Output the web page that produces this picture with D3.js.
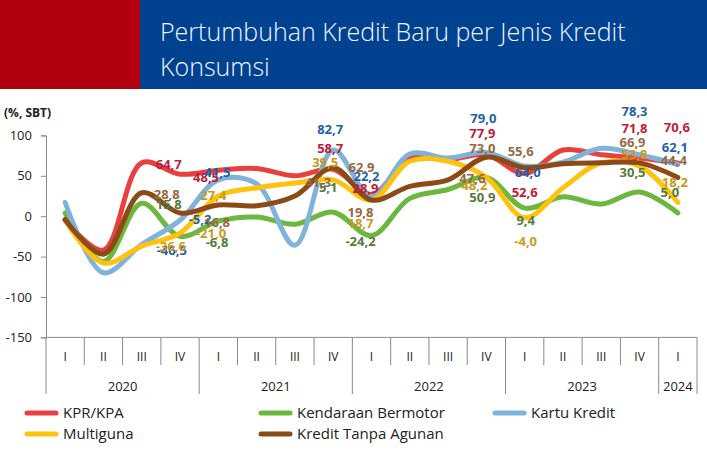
<!DOCTYPE html>
<html lang="id">
<head>
<meta charset="UTF-8">
<title>Pertumbuhan Kredit Baru per Jenis Kredit Konsumsi</title>
<style>
  body { margin: 0; background: #fff; }
  svg { display: block; font-family: "Open Sans", "Noto Sans", sans-serif; }
</style>
</head>
<body>
<svg id="chart" width="707" height="455"></svg>
<script src="https://cdnjs.cloudflare.com/ajax/libs/d3/7.8.5/d3.min.js"></script>
<script>
// quarters 2020 Q1 .. 2024 Q1
const quarters = ["I","II","III","IV","I","II","III","IV","I","II","III","IV","I","II","III","IV","I"];
const years = ["2020","2021","2022","2023","2024"];
const quartersPerYear = [4, 4, 4, 4, 1];
const yTicks = [100, 50, 0, -50, -100, -150];

// line values (%, yoy)
const kpr       = [-5, -42, 66, 52, 57, 59, 50, 58, 27, 72, 70, 76, 53, 82, 76, 72, 66];
const kendaraan = [4, -56, 16, -25, -6, -1, -10, 5, -24, 22, 33, 48, 10, 24, 15, 30, 4];
const kartu     = [17, -70, -35, -5, 45, 40, -36, 82, 24, 77, 72, 79, 62, 67, 84, 76, 64];
const multiguna = [-5, -58, -37, -21, 25, 35, 41, 45, 20, 68, 68, 48, -2, 35, 66, 62, 17];
const kta       = [-4, -47, 29, 4, 14, 13, 25, 60, 20, 37, 45, 73, 60, 65, 66, 66, 48];

// data labels: [quarter index, text]
const kprLabels       = [[2,"64,7"],[3,"48,5"],[7,"58,7"],[8,"28,9"],[11,"77,9"],[12,"52,6"],[15,"71,8"],[16,"70,6"]];
const kartuLabels     = [[2,"-46,5"],[3,"-5,2"],[4,"41,5"],[7,"82,7"],[8,"22,2"],[11,"79,0"],[12,"64,0"],[15,"78,3"],[16,"62,1"]];
const kendaraanLabels = [[2,"15,8"],[3,"-6,8"],[7,"5,1"],[8,"-24,2"],[11,"50,9"],[12,"9,4"],[15,"30,5"],[16,"5,0"]];
const multigunaLabels = [[2,"-36,6"],[3,"-21,0"],[4,"27,4"],[7,"39,5"],[8,"18,7"],[11,"48,2"],[12,"-4,0"],[15,"53,8"],[16,"18,2"]];
const ktaLabels       = [[2,"28,8"],[3,"16,8"],[7,"41,3"],[8,"62,9"],[8,"19,8"],[11,"73,0"],[11,"47,6"],[12,"55,6"],[15,"66,9"],[16,"44,4"]];

// label nudges from the point on the line, in px (same order as above)
const nudge = {
  kpr:       [[27,2],[26,3],[-3,-21],[-6,-6],[-4,-21],[0,19],[-5,-30],[-1,-35]],
  kartu:     [[30,6],[20,-1],[-1,-7],[-3,-20],[-5,-20],[-3,-34],[3,6],[-5,-43],[-3,-17]],
  kendaraan: [[27,1],[37,6],[-5,-25],[-11,6],[-4,20],[1,12],[-7,-20],[-8,-21]],
  multiguna: [[29,0],[31,0],[-5,-1],[-8,-17],[-11,23],[-12,8],[1,24],[-5,-12],[-3,-20]],
  kta:       [[25,2],[37,9],[-15,15],[-10,-33],[-11,12],[-4,-9],[-14,21],[-4,-16],[-7,-20],[-4,-17]]
};

const series = [
  { key: "kpr",       name: "KPR/KPA",             values: kpr,       labels: kprLabels,       line: "#e8403f", text: "#c01a3a" },
  { key: "kendaraan", name: "Kendaraan Bermotor",  values: kendaraan, labels: kendaraanLabels, line: "#6cb73e", text: "#557a3a" },
  { key: "kartu",     name: "Kartu Kredit",        values: kartu,     labels: kartuLabels,     line: "#80b3dc", text: "#1d62a8" },
  { key: "multiguna", name: "Multiguna",           values: multiguna, labels: multigunaLabels, line: "#ffc20e", text: "#c99a1a" },
  { key: "kta",       name: "Kredit Tanpa Agunan", values: kta,       labels: ktaLabels,       line: "#8c4a17", text: "#97683f" }
];

const svg = d3.select("#chart");
const W = 707;

// title banner
svg.append("rect").attr("x", 0).attr("y", 0).attr("width", 140).attr("height", 89).attr("fill", "#b3000f");
svg.append("rect").attr("x", 140).attr("y", 0).attr("width", W - 140).attr("height", 89).attr("fill", "#004190");
const title = svg.append("text").attr("fill", "#f0f5ff").attr("font-size", 25).attr("font-weight", 300);
title.append("tspan").attr("x", 160).attr("y", 41).text("Pertumbuhan Kredit Baru per Jenis Kredit");
title.append("tspan").attr("x", 160).attr("y", 76).text("Konsumsi");

const plotLeft = 46, plotRight = 697, plotTop = 135.4, plotBottom = 337.4;

const x = d3.scaleBand().domain(d3.range(quarters.length)).range([plotLeft, plotRight]).padding(0);
const y = d3.scaleLinear().domain([-150, 100]).range([plotBottom, plotTop]);
const cx = i => x(i) + x.bandwidth() / 2;

// unit
svg.append("text").attr("x", 4).attr("y", 117).attr("font-size", 12).attr("font-weight", 700)
  .attr("fill", "#222").text("(%, SBT)");

// y axis
const yAxis = d3.axisLeft(y).tickValues(yTicks).tickSize(5).tickPadding(9).tickFormat(d3.format("d"));
const gy = svg.append("g").attr("transform", `translate(${plotLeft},0)`).call(yAxis);
gy.select(".domain").attr("stroke", "#8a8a8a");
gy.selectAll(".tick line").attr("stroke", "#8a8a8a");
gy.selectAll(".tick text").attr("font-size", 13).attr("fill", "#222")
  .attr("font-family", "'Open Sans', sans-serif").text(d => d < 0 ? "-" + Math.abs(d) : d);

// category axis: quarter + year rows
const gx = svg.append("g");
gx.append("line").attr("x1", plotLeft).attr("x2", plotRight).attr("y1", plotBottom).attr("y2", plotBottom).attr("stroke", "#8a8a8a");
const yearStart = [0];
quartersPerYear.forEach((n, i) => yearStart.push(yearStart[i] + n));
d3.range(quarters.length + 1).forEach(i => {
  const px = i < quarters.length ? x(i) : plotRight;
  const isYear = yearStart.includes(i);
  gx.append("line").attr("x1", px).attr("x2", px).attr("y1", plotBottom)
    .attr("y2", isYear ? 394 : 365).attr("stroke", "#8a8a8a");
});
gx.selectAll(".q").data(quarters).join("text")
  .attr("x", (d, i) => cx(i)).attr("y", 361).attr("text-anchor", "middle")
  .attr("font-size", 12).attr("fill", "#222").text(d => d);
gx.selectAll(".yr").data(years).join("text")
  .attr("x", (d, i) => {
    const a = x(yearStart[i]);
    const b = yearStart[i + 1] < quarters.length ? x(yearStart[i + 1]) : plotRight;
    return (a + b) / 2;
  })
  .attr("y", 391).attr("text-anchor", "middle").attr("font-size", 13).attr("fill", "#222").text(d => d);

// lines
const line = d3.line().x((d, i) => cx(i)).y(d => y(d)).curve(d3.curveCatmullRom.alpha(0.5));
svg.append("g").selectAll("path").data(series).join("path")
  .attr("d", s => line(s.values)).attr("fill", "none").attr("stroke", s => s.line)
  .attr("stroke-width", 5).attr("stroke-linecap", "round").attr("stroke-linejoin", "round");

// data labels
const gl = svg.append("g").attr("font-size", 13).attr("font-weight", 700).attr("text-anchor", "middle");
series.forEach(s => {
  s.labels.forEach(([q, t], j) => {
    const [dx, dy] = nudge[s.key][j];
    gl.append("text").attr("x", cx(q) + dx).attr("y", y(s.values[q]) + dy)
      .attr("dy", "0.35em").attr("fill", s.text).text(t);
  });
});

// legend
const legendPos = [[25, 413], [259, 413], [493, 413], [25, 434], [259, 434]];
const gLeg = svg.append("g");
series.forEach((s, i) => {
  const [lx, ly] = legendPos[i];
  gLeg.append("line").attr("x1", lx + 2).attr("x2", lx + 31).attr("y1", ly).attr("y2", ly)
    .attr("stroke", s.line).attr("stroke-width", 5).attr("stroke-linecap", "round");
  gLeg.append("text").attr("x", lx + 38).attr("y", ly).attr("dy", "0.35em")
    .attr("font-size", 15).attr("fill", "#222").text(s.name);
});
</script>
</body>
</html>
